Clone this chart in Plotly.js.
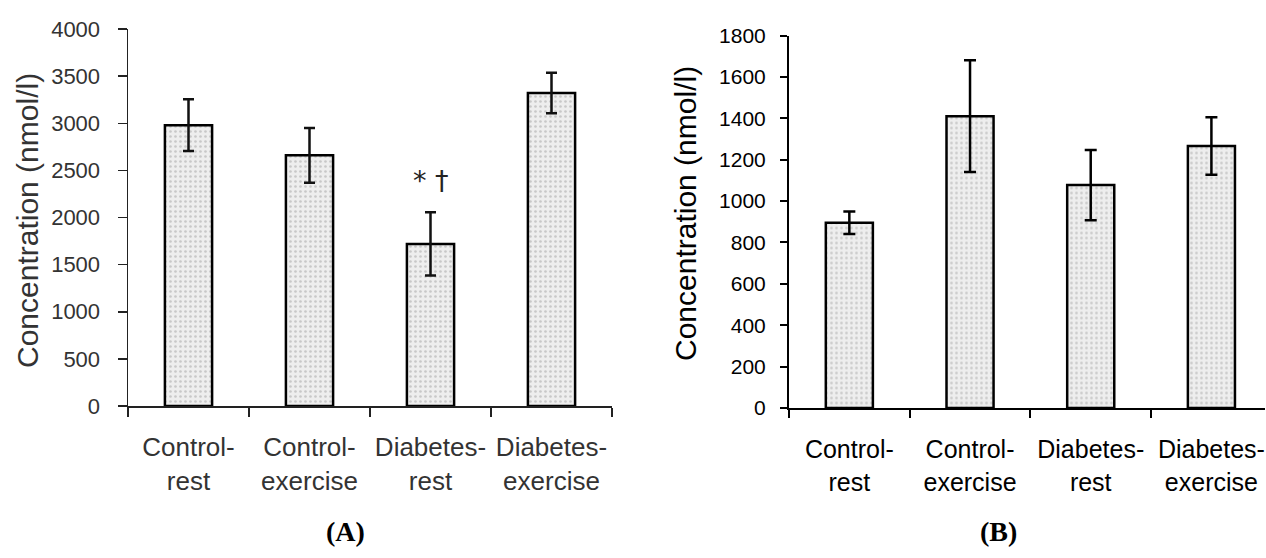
<!DOCTYPE html>
<html>
<head>
<meta charset="utf-8">
<script src="https://cdn.plot.ly/plotly-3.0.1.min.js"></script>
<style>
  html, body { margin: 0; padding: 0; background: #fff; }
  #chart { width: 1266px; height: 558px; }
</style>
</head>
<body>
<div id="chart"></div>
<script>
// ---- data ----
const categories = ["Control-<br>rest", "Control-<br>exercise", "Diabetes-<br>rest", "Diabetes-<br>exercise"];
const panelAValues = [2980, 2660, 1720, 3320];
const panelAErrors = [275, 290, 335, 215];
const panelBValues = [895, 1410, 1077, 1266];
const panelBErrors = [54, 270, 170, 139];
const yTitle = "Concentration (nmol/l)";
const panelLabels = ["(A)", "(B)"];
const significanceMark = "* †";
const significanceCategory = 2;
const significanceLevel = 2390;

const W = 1266, H = 558;
const px = v => v / W;
const py = v => (H - v) / H;

const barMarker = {
  color: "#ebebeb",
  line: { color: "#000", width: 2.5 },
  pattern: { shape: ".", fgcolor: "#c8c8c8", bgcolor: "#eeeeee", size: 5, solidity: 0.22 }
};

const traceA = {
  type: "bar", x: categories, y: panelAValues, xaxis: "x", yaxis: "y",
  width: 0.39,
  marker: barMarker,
  error_y: { type: "data", array: panelAErrors, visible: true, color: "#111", thickness: 2.5, width: 5.5 },
  hoverinfo: "x+y", showlegend: false
};
const traceB = {
  type: "bar", x: categories, y: panelBValues, xaxis: "x2", yaxis: "y2",
  width: 0.39,
  marker: barMarker,
  error_y: { type: "data", array: panelBErrors, visible: true, color: "#000", thickness: 2.5, width: 6 },
  hoverinfo: "x+y", showlegend: false
};

const fontA = { family: "Liberation Sans, Arial, sans-serif", color: "#333" };
const fontB = { family: "Liberation Sans, Arial, sans-serif", color: "#000" };

const layout = {
  width: W, height: H,
  margin: { l: 0, r: 0, t: 0, b: 0 },
  paper_bgcolor: "#fff", plot_bgcolor: "rgba(0,0,0,0)",
  showlegend: false,
  xaxis: {
    domain: [px(128), px(612)], anchor: "y", type: "category",
    range: [-0.5, 3.5], tickson: "boundaries", tickangle: 0,
    ticks: "outside", ticklen: 9, tickwidth: 1.5, tickcolor: "#222",
    showline: true, linecolor: "#222", linewidth: 1.5,
    showgrid: false, zeroline: false,
    tickfont: Object.assign({ size: 26 }, fontA), ticklabelstandoff: 17
  },
  yaxis: {
    domain: [py(406), py(29)], anchor: "x",
    range: [0, 4000], dtick: 500, tick0: 0,
    ticks: "outside", ticklen: 9, tickwidth: 1.5, tickcolor: "#222",
    showline: true, linecolor: "#222", linewidth: 1.5,
    showgrid: false, zeroline: false,
    tickfont: Object.assign({ size: 22 }, fontA), ticklabelstandoff: 13
  },
  xaxis2: {
    domain: [px(789), px(1265)], anchor: "y2", type: "category",
    range: [-0.5, 3.444], tickson: "boundaries", tickangle: 0,
    ticks: "outside", ticklen: 8, tickwidth: 2, tickcolor: "#000",
    showline: true, linecolor: "#000", linewidth: 2,
    showgrid: false, zeroline: false,
    tickfont: Object.assign({ size: 25 }, fontB), ticklabelstandoff: 18
  },
  yaxis2: {
    domain: [py(408), py(35.5)], anchor: "x2",
    range: [0, 1800], dtick: 200, tick0: 0,
    ticks: "outside", ticklen: 7, tickwidth: 2, tickcolor: "#000",
    showline: true, linecolor: "#000", linewidth: 2,
    showgrid: false, zeroline: false,
    tickfont: Object.assign({ size: 21 }, fontB), ticklabelstandoff: 10
  },
  annotations: [
    { xref: "paper", yref: "paper", x: px(27), y: py(221), xanchor: "center", yanchor: "middle",
      textangle: -90, text: yTitle, showarrow: false, font: Object.assign({ size: 30 }, fontA) },
    { xref: "paper", yref: "paper", x: px(686), y: py(214), xanchor: "center", yanchor: "middle",
      textangle: -90, text: yTitle, showarrow: false, font: Object.assign({ size: 30 }, fontB) },
    { xref: "x", yref: "y", x: significanceCategory, y: significanceLevel, text: significanceMark,
      showarrow: false, font: { family: "DejaVu Sans, sans-serif", size: 27, color: "#222" } },
    { xref: "paper", yref: "paper", x: px(345), y: py(531), xanchor: "center", yanchor: "middle",
      text: "<b>" + panelLabels[0] + "</b>",
      showarrow: false, font: { family: "Liberation Serif, Times New Roman, serif", size: 28, color: "#000" } },
    { xref: "paper", yref: "paper", x: px(998), y: py(531), xanchor: "center", yanchor: "middle",
      text: "<b>" + panelLabels[1] + "</b>",
      showarrow: false, font: { family: "Liberation Serif, Times New Roman, serif", size: 28, color: "#000" } }
  ]
};

Plotly.newPlot("chart", [traceA, traceB], layout, { staticPlot: true, displayModeBar: false });
</script>
</body>
</html>
